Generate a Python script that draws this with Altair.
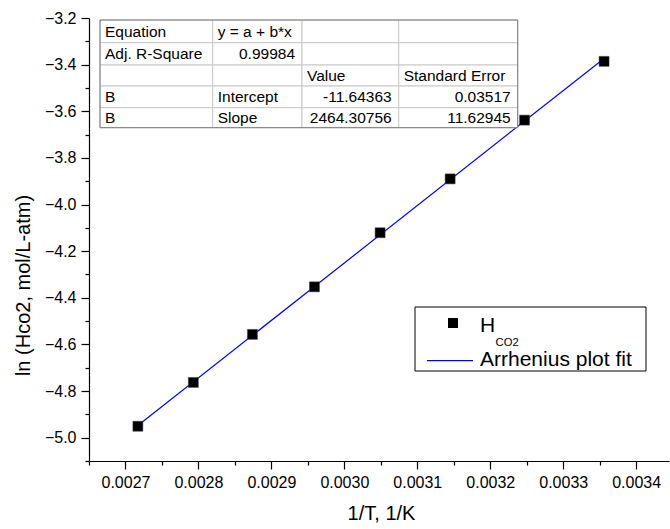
import altair as alt
import pandas as pd

# ---- data ----
inv_T = [0.002717, 0.002793, 0.002874, 0.002959, 0.003049, 0.003145, 0.003247, 0.003356]
ln_H = [-4.951, -4.763, -4.557, -4.353, -4.121, -3.890, -3.638, -3.386]

fit_intercept = -11.64363
fit_slope = 2464.30756
fit_intercept_se = 0.03517
fit_slope_se = 11.62945
adj_r2 = 0.99984

x_ticks = [0.0027, 0.0028, 0.0029, 0.0030, 0.0031, 0.0032, 0.0033, 0.0034]
x_minor = [0.00265, 0.00275, 0.00285, 0.00295, 0.00305, 0.00315, 0.00325, 0.00335, 0.00345]
y_ticks = [-5.0, -4.8, -4.6, -4.4, -4.2, -4.0, -3.8, -3.6, -3.4, -3.2]
y_minor = [-5.1, -4.9, -4.7, -4.5, -4.3, -4.1, -3.9, -3.7, -3.5, -3.3]

table_rows = [
    ["Equation", "y = a + b*x", "", ""],
    ["Adj. R-Square", f"{adj_r2:.5f}", "", ""],
    ["", "", "Value", "Standard Error"],
    ["B", "Intercept", f"{fit_intercept:.5f}", f"{fit_intercept_se:.5f}"],
    ["B", "Slope", f"{fit_slope:.5f}", f"{fit_slope_se:.5f}"],
]

legend_labels = ["H", "CO2", "Arrhenius plot fit"]

# ---- layout (pixels, relative to plot area) ----
W, H = 580, 443
FONT = "Liberation Sans"
col_edges = [11, 123.7, 213, 309.7, 428.7]
row_edges = [2, 24.7, 47, 68, 89.7, 109.7]

pts = pd.DataFrame({"x": inv_T, "y": ln_H})
fit = pd.DataFrame({"x": [inv_T[0], inv_T[-1]]})
fit["y"] = fit_intercept + fit_slope * fit["x"]
one = pd.DataFrame({"k": [0]})

xscale = alt.Scale(domain=[0.00265, 0.003445], nice=False, zero=False)
yscale = alt.Scale(domain=[-5.1, -3.2], nice=False, zero=False)

fit_line = alt.Chart(fit).mark_line(color="#0000ff", strokeWidth=1.2).encode(
    x=alt.X("x:Q", scale=xscale, axis=alt.Axis(
        values=x_ticks, format=".4f", title="1/T, 1/K", orient="bottom",
        tickSize=8, labelPadding=5, titleX=292, titleY=52, titleBaseline="middle",
        titleAlign="center")),
    y=alt.Y("y:Q", scale=yscale, axis=alt.Axis(
        values=y_ticks, format=".1f", title="ln (Hco2, mol/L-atm)", orient="left",
        tickSize=8, labelPadding=5, titleX=-66, titleY=267, titleAngle=270,
        titleAlign="center", titleBaseline="middle")),
)

points = alt.Chart(pts).mark_square(size=100, color="black", opacity=1,
                                    stroke="#444444", strokeWidth=0.5).encode(
    x=alt.X("x:Q", scale=xscale, axis=alt.Axis(
        values=x_minor, labels=False, domain=False, tickSize=4, title=None, orient="bottom", grid=False)),
    y=alt.Y("y:Q", scale=yscale, axis=alt.Axis(
        values=y_minor, labels=False, domain=False, tickSize=4, title=None, orient="left", grid=False)),
)

# ---- fit statistics table ----
cells = []
for r, row in enumerate(table_rows):
    for c, txt in enumerate(row):
        try:
            float(txt)
            num = True
        except ValueError:
            num = False
        cells.append({
            "x1": col_edges[c], "x2": col_edges[c + 1],
            "y1": row_edges[r], "y2": row_edges[r + 1],
            "text": txt, "num": num,
            "tx": (col_edges[c + 1] - 7) if num else (col_edges[c] + 5),
            "ty": (row_edges[r] + row_edges[r + 1]) / 2 + 0.5,
        })
cells = pd.DataFrame(cells)

cell_rects = alt.Chart(cells).mark_rect(fill="white", stroke="#c8c8c8", strokeWidth=1).encode(
    x=alt.X("x1:Q", scale=None, axis=None), x2="x2:Q",
    y=alt.Y("y1:Q", scale=None, axis=None), y2="y2:Q",
)
outer = alt.Chart(one).mark_rect(fill=None, stroke="#7a7a7a", strokeWidth=1).encode(
    x=alt.value(col_edges[0]), x2=alt.value(col_edges[-1]),
    y=alt.value(row_edges[0]), y2=alt.value(row_edges[-1]),
)
txt_left = alt.Chart(cells).transform_filter("!datum.num").mark_text(
    align="left", baseline="middle", font=FONT, fontSize=15.5, color="black").encode(
    x=alt.X("tx:Q", scale=None, axis=None), y=alt.Y("ty:Q", scale=None, axis=None), text="text:N")
txt_right = alt.Chart(cells).transform_filter("datum.num").mark_text(
    align="right", baseline="middle", font=FONT, fontSize=15.5, color="black").encode(
    x=alt.X("tx:Q", scale=None, axis=None), y=alt.Y("ty:Q", scale=None, axis=None), text="text:N")

# ---- legend ----
leg_box = alt.Chart(one).mark_rect(fill="white", stroke="black", strokeWidth=1).encode(
    x=alt.value(326), x2=alt.value(557), y=alt.value(289), y2=alt.value(353))
leg_sq = alt.Chart(one).mark_square(size=100, color="black", opacity=1).encode(
    x=alt.value(364), y=alt.value(305))
leg_line = alt.Chart(one).mark_rule(color="#0000ff", strokeWidth=1.2).encode(
    x=alt.value(338), x2=alt.value(384), y=alt.value(342.7))
leg_h = alt.Chart(one).mark_text(align="left", baseline="middle", font=FONT, fontSize=21,
                                 color="black", text=legend_labels[0]).encode(x=alt.value(391), y=alt.value(307.5))
leg_sub = alt.Chart(one).mark_text(align="left", baseline="middle", font=FONT, fontSize=11.3,
                                   color="black", text=legend_labels[1]).encode(x=alt.value(406.5), y=alt.value(325))
leg_fit = alt.Chart(one).mark_text(align="left", baseline="middle", font=FONT, fontSize=21,
                                   color="black", text=legend_labels[2]).encode(x=alt.value(391), y=alt.value(341.5))

chart = alt.layer(
    fit_line, points, cell_rects, outer, txt_left, txt_right,
    leg_box, leg_sq, leg_line, leg_h, leg_sub, leg_fit,
).resolve_axis(x="independent", y="independent").properties(
    width=W, height=H,
    autosize=alt.AutoSizeParams(type="none"),
    padding={"left": 89, "top": 18, "right": 1, "bottom": 68},
    background="white",
).configure_view(stroke=None).configure_axis(
    labelFont=FONT, labelFontSize=16, labelColor="black",
    titleFont=FONT, titleFontSize=20, titleFontWeight="normal", titleColor="black",
    domainColor="black", domainWidth=1.2, tickColor="black", tickWidth=1.2, grid=False,
)

chart.save("out.html", embed_options={"renderer": "svg", "actions": False})
